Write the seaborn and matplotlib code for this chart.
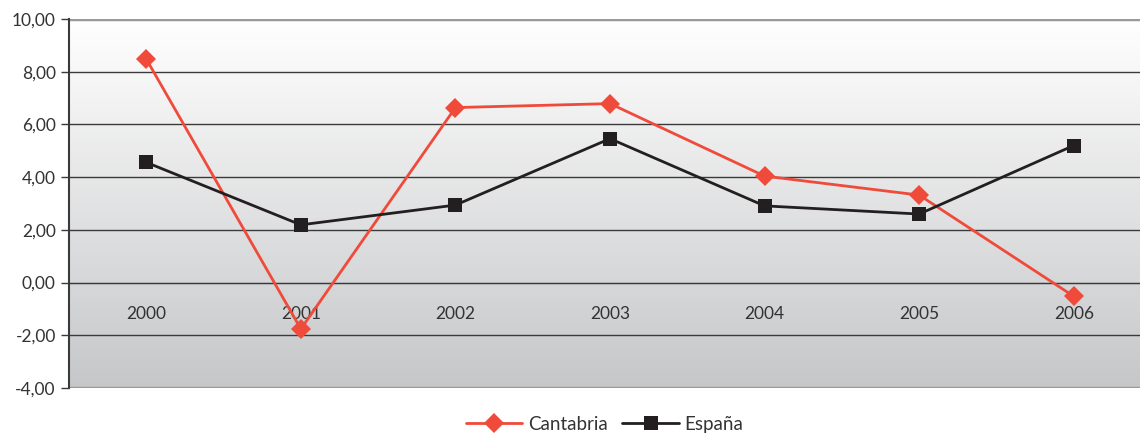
import numpy as np
import pandas as pd
import matplotlib
matplotlib.use("Agg")
import matplotlib.pyplot as plt
import seaborn as sns

years = ["2000", "2001", "2002", "2003", "2004", "2005", "2006"]
cantabria = [8.48, -1.76, 6.64, 6.79, 4.04, 3.32, -0.52]
espana = [4.56, 2.19, 2.94, 5.46, 2.91, 2.60, 5.20]
y_ticks = [-4, -2, 0, 2, 4, 6, 8, 10]

sns.set_style("white")
plt.rcParams['font.family'] = ['Lato', 'DejaVu Sans']

df = pd.DataFrame({
    "pos": list(range(len(years))) * 2,
    "valor": cantabria + espana,
    "serie": ["Cantabria"] * len(years) + ["España"] * len(years),
})

fig = plt.figure(figsize=(11.4, 4.34), dpi=100)
ax = fig.add_axes([69 / 1140, 46 / 434, 1071 / 1140, 369 / 434])

xmax = 6.5 - 11 / 154.5
# background gradient
grad = np.linspace(0, 1, 256).reshape(-1, 1)
cmap = matplotlib.colors.LinearSegmentedColormap.from_list("g", ["#ffffff", "#c6c7c9"])
ax.imshow(grad, aspect="auto", cmap=cmap, extent=[-0.5, xmax, -4, 10],
          origin="upper", zorder=0)

for v in y_ticks[1:-1]:
    ax.axhline(v, color="#3a3a3a", lw=1, zorder=1)
ax.axhline(10, color="#9a9a9a", lw=2.5, zorder=1)
ax.axhline(-4, color="#9a9a9a", lw=2.5, zorder=1)

sns.lineplot(data=df, x="pos", y="valor", hue="serie", style="serie",
             palette={"Cantabria": "#f04a3a", "España": "#231f20"},
             markers={"Cantabria": "D", "España": "s"}, dashes=False,
             markersize=10, markeredgewidth=0, lw=2, ax=ax, zorder=3)

ax.set_xlim(-0.5, xmax)
ax.set_ylim(-4, 10)
ax.set_yticks(y_ticks)
ax.set_yticklabels([f"{v:.2f}".replace(".", ",") for v in y_ticks])
ax.set_xticks(range(len(years)))
ax.set_xticklabels(years)
ax.set_xticks(np.arange(0.5, 6, 1), minor=True)
ax.tick_params(axis="x", which="major", length=0, pad=17, labelsize=12.5, colors="#333333")
ax.tick_params(axis="x", which="minor", length=5, width=1, color="#3a3a3a", direction="out")
ax.tick_params(axis="y", length=6, width=1, color="#3a3a3a", labelsize=12.5, colors="#333333", left=True)
ax.spines["bottom"].set_position(("data", 0))
ax.spines["bottom"].set_color("#3a3a3a")
ax.spines["left"].set_color("#3a3a3a")
ax.spines["left"].set_linewidth(1.5)
for s in ["top", "right"]:
    ax.spines[s].set_visible(False)
ax.set_xlabel("")
ax.set_ylabel("")

h, l = ax.get_legend_handles_labels()
ax.legend(h, l, loc="lower center", bbox_to_anchor=(0.5, -0.142), ncol=2, frameon=False,
          fontsize=13.5, handlelength=3.0, columnspacing=0.8, handletextpad=0.3,
          labelcolor="#333333", borderaxespad=0)

fig.savefig("out.png", dpi=100)
